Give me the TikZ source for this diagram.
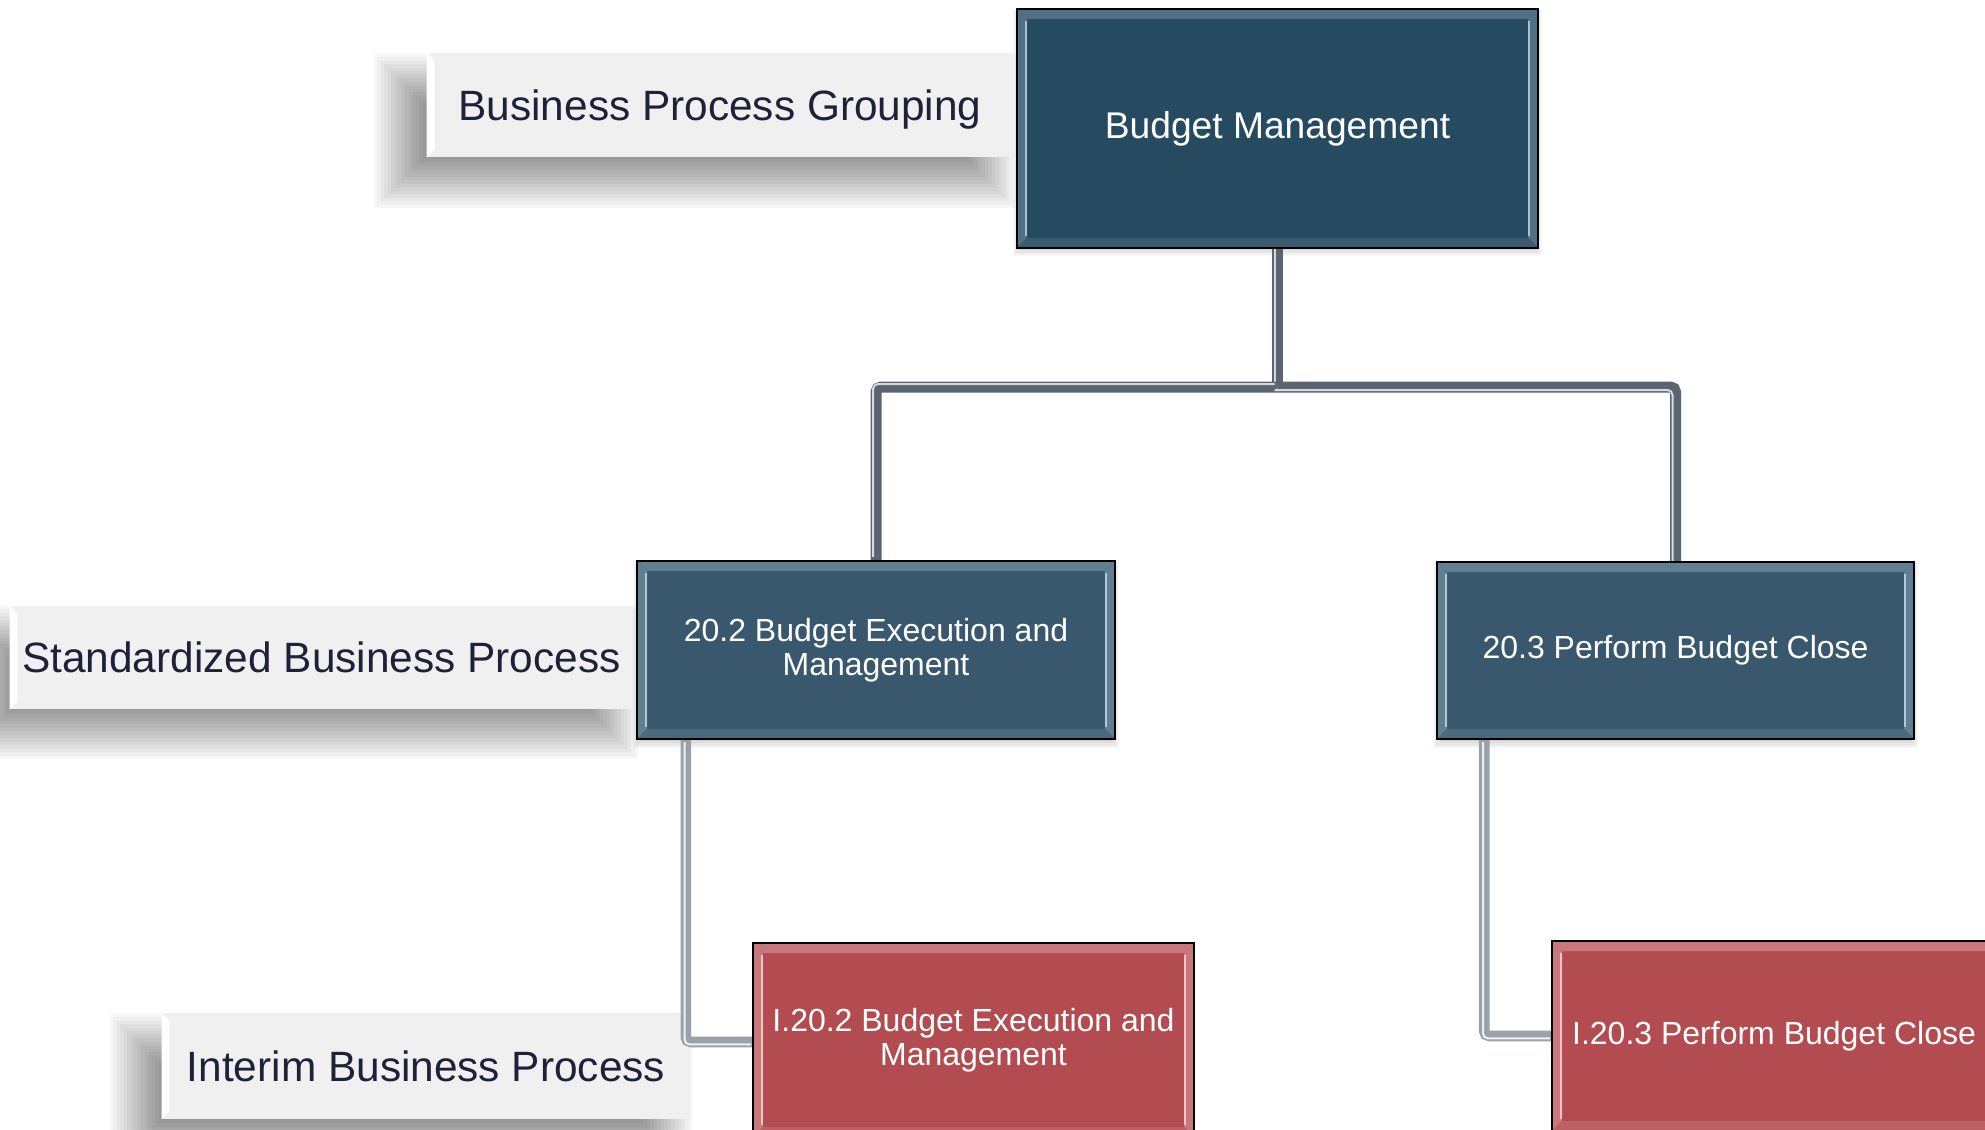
\documentclass[tikz,border=0pt]{standalone}
\usepackage{fontspec}
\setmainfont{Liberation Sans}
\usetikzlibrary{calc}
\definecolor{bmfill}{HTML}{264A5F}
\definecolor{bmband}{HTML}{4F7085}
\definecolor{bmbright}{HTML}{A3C2D4}
\definecolor{bmbot}{HTML}{3A5A6E}
\definecolor{sfill}{HTML}{3A586D}
\definecolor{sband}{HTML}{617F93}
\definecolor{sbright}{HTML}{AECAD9}
\definecolor{sbot}{HTML}{4C6A7E}
\definecolor{rfill}{HTML}{B24C50}
\definecolor{rband}{HTML}{C8777A}
\definecolor{rbright}{HTML}{F2C4C6}
\definecolor{rbot}{HTML}{BD6064}
\definecolor{lfill}{HTML}{F0F0F0}
\definecolor{ltext}{HTML}{1F2139}
\definecolor{connA}{HTML}{5B6572}
\definecolor{connAi}{HTML}{D3DAE0}
\definecolor{connB}{HTML}{9AA1AA}
\definecolor{connBi}{HTML}{EEF1F3}
\newcommand\mysoftshadow[7]{% x1 y1 x2 y2 radius opacity-per-step steps
  \foreach \kk in {1,...,#7}{%
    \pgfmathsetmacro\dd{-#5+(\kk-0.5)*2*#5/#7}%
    \fill[black, opacity=#6] (#1+\dd,#2+\dd) rectangle (#3-\dd,#4-\dd);
  }}
\pgfdeclarelayer{lblayer}
\pgfdeclarelayer{connlayer}
\pgfsetlayers{lblayer,connlayer,main}
\tikzset{
  bevel/.style n args={4}{path picture={
    \path (path picture bounding box.north west) coordinate (bNW)
          (path picture bounding box.north east) coordinate (bNE)
          (path picture bounding box.south west) coordinate (bSW)
          (path picture bounding box.south east) coordinate (bSE);
    \fill[#1] (bNW) -- (bNE) -- ([shift={(-5pt,-5pt)}]bNE) -- ([shift={(5pt,-5pt)}]bNW) -- cycle;
    \fill[#2] (bNW) -- ([shift={(5pt,-5pt)}]bNW) -- ([shift={(5pt,5pt)}]bSW) -- (bSW) -- cycle;
    \fill[#2] (bNE) -- ([shift={(-5pt,-5pt)}]bNE) -- ([shift={(-5pt,5pt)}]bSE) -- (bSE) -- cycle;
    \fill[#4] (bSW) -- ([shift={(5pt,5pt)}]bSW) -- ([shift={(-5pt,5pt)}]bSE) -- (bSE) -- cycle;
    \draw[#3, line width=1.2pt] ([shift={(4.4pt,-6pt)}]bNW) -- ([shift={(4.4pt,6pt)}]bSW);
    \draw[#3, line width=1.2pt] ([shift={(-4.4pt,-6pt)}]bNE) -- ([shift={(-4.4pt,6pt)}]bSE);
  }},
  box/.style={draw=black, line width=0.8pt, inner sep=2pt, align=center, text=white,
    font=\fontsize{16pt}{17pt}\selectfont},
  topbox/.style={box, fill=bmfill, bevel={bmband}{bmband}{bmbright}{bmbot},
    font=\fontsize{18.6pt}{22pt}\selectfont},
  stdbox/.style={box, fill=sfill, bevel={sband}{sband}{sbright}{sbot}},
  intbox/.style={box, fill=rfill, bevel={rband}{rband}{rbright}{rbot}},
  lbl/.style={fill=lfill, inner sep=0pt, text depth=0pt, text=ltext, font=\fontsize{21.2pt}{24pt}\selectfont},
  conna/.style={draw=connA, line width=5.5pt, rounded corners=2.5pt,
    postaction={draw=connAi, line width=1pt, transform canvas={shift={(#1)}}}},
  connb/.style={draw=connB, line width=5.3pt, rounded corners=2.5pt,
    postaction={draw=connBi, line width=1pt, transform canvas={shift={(#1)}}}}
}
\begin{document}
\begin{tikzpicture}[x=0.5pt,y=-0.5pt]
\useasboundingbox (0,0) rectangle (1985,1129);

\begin{pgfonlayer}{lblayer}
\fill[white] (0,0) rectangle (1985,1129);
% label shadows
\mysoftshadow{400}{80}{990}{182}{28}{0.03}{16}
\mysoftshadow{-12}{632}{612}{733}{28}{0.03}{16}
\mysoftshadow{136}{1040}{666}{1146}{28}{0.03}{16}
% box shadows
\mysoftshadow{1017}{13}{1538}{252}{5}{0.025}{8}
\mysoftshadow{637}{565}{1115}{744}{5}{0.025}{8}
\mysoftshadow{1437}{566}{1914}{744}{5}{0.025}{8}
\node[lbl, minimum width=293pt, minimum height=52pt] (lg) at (720,105) {Business Process Grouping};
\node[lbl, minimum width=311.5pt, minimum height=51.5pt] (ls) at (321.5,657.5) {Standardized Business Process};
\node[lbl, minimum width=264pt, minimum height=53pt] (li) at (426,1066) {Interim Business Process};
\fill[white] (lg.north west) -- ([shift={(4pt,-4pt)}]lg.north west) -- ([shift={(4pt,4pt)}]lg.south west) -- (lg.south west) -- cycle;
\fill[white] (ls.north west) -- ([shift={(4pt,-4pt)}]ls.north west) -- ([shift={(4pt,4pt)}]ls.south west) -- (ls.south west) -- cycle;
\fill[white] (li.north west) -- ([shift={(4pt,-4pt)}]li.north west) -- ([shift={(4pt,4pt)}]li.south west) -- (li.south west) -- cycle;
\end{pgfonlayer}

\node[topbox, minimum width=260.5pt, minimum height=119.5pt] (bm) at (1277.5,128.5) {Budget Management};
\node[stdbox, minimum width=239pt, minimum height=89pt] (s202) at (876,650) {20.2 Budget Execution and\\Management};
\node[stdbox, minimum width=238.5pt, minimum height=88.5pt] (s203) at (1675.5,650.5) {20.3 Perform Budget Close};
\node[intbox, minimum width=220.5pt, minimum height=97pt] (i202) at (973.5,1040) {I.20.2 Budget Execution and\\Management};
\node[intbox, minimum width=222pt, minimum height=95pt] (i203) at (1774,1036) {I.20.3 Perform Budget Close};

\begin{pgfonlayer}{connlayer}
\coordinate (j) at (1277.5,387);
\draw[conna={-1.5pt,0pt}] (bm.south) -- (j);
\draw[conna={-1.5pt,1.5pt}] (j) -| (s202.north);
\draw[conna={-1.5pt,-1.5pt}] (j) -| (s203.north);
\draw[connb={-0.6pt,-1.2pt}] ([xshift=24.8pt]s202.south west) |- ([yshift=-1pt]i202.west);
\draw[connb={-0.6pt,-1.2pt}] ([xshift=24pt]s203.south west) |- (i203.west);
\end{pgfonlayer}
\end{tikzpicture}
\end{document}
